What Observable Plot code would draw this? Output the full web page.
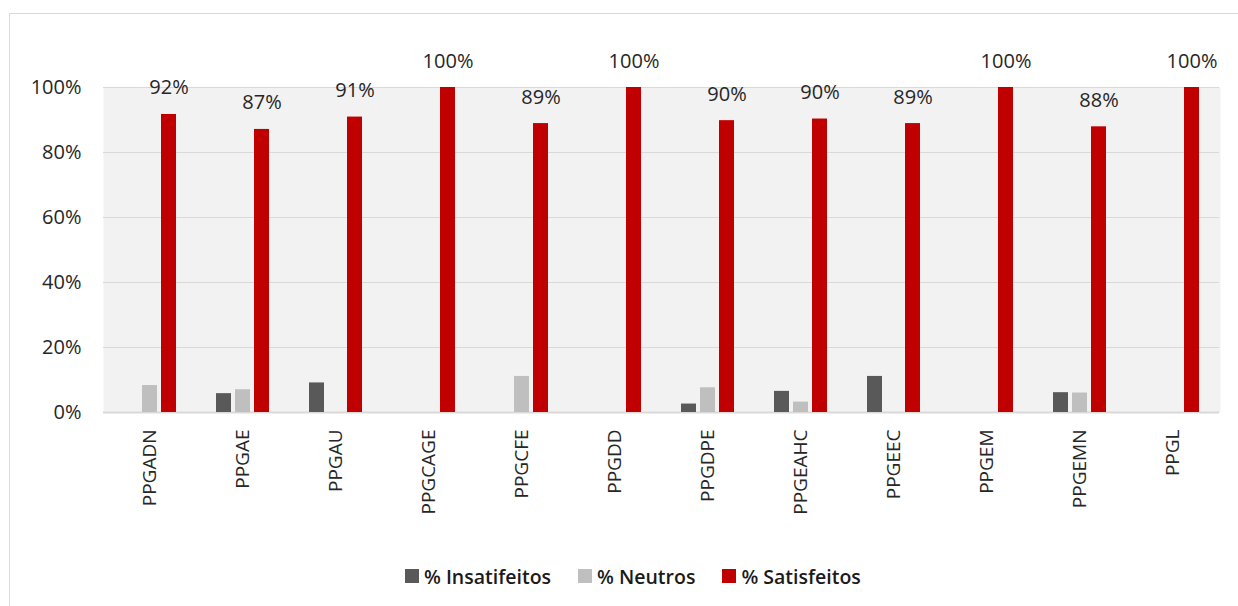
<!DOCTYPE html>
<html><head><meta charset="utf-8">
<script src="https://cdn.jsdelivr.net/npm/d3@7"></script>
<script src="https://cdn.jsdelivr.net/npm/@observablehq/plot@0.6"></script>
<style>
body{margin:0;background:#fff;font-family:"Open Sans",sans-serif;}
#wrap{position:relative;width:1238px;height:606px;overflow:hidden;}
#border{position:absolute;left:9px;top:13px;width:1400px;height:800px;border-left:1px solid #d9d9d9;border-top:1px solid #d9d9d9;}
#chart{position:absolute;left:0;top:0;}
#legend{position:absolute;left:405px;top:561px;display:flex;align-items:center;height:30px;font-size:19.5px;font-weight:600;color:#1a1a1a;white-space:nowrap;}
#legend .item{display:flex;align-items:center;margin-right:27px;}
#legend .sw{width:14px;height:14px;margin-right:5px;}
</style>
</head><body>
<div id="wrap"><div id="border"></div><div id="chart"></div><div id="legend"></div></div>
<script>
const programs = ["PPGADN","PPGAE","PPGAU","PPGCAGE","PPGCFE","PPGDD","PPGDPE","PPGEAHC","PPGEEC","PPGEM","PPGEMN","PPGL"];
const series = ["% Insatifeitos","% Neutros","% Satisfeitos"];
const colors = ["#595959","#bfbfbf","#c00000"];
const insatisfeitos = [0, 5.8, 9.1, 0, 0, 0, 2.6, 6.5, 11.1, 0, 6.1, 0];
const neutros = [8.3, 7.0, 0, 0, 11.1, 0, 7.6, 3.2, 0, 0, 6.0, 0];
const satisfeitos = [91.7, 87.1, 90.9, 100, 88.9, 100, 89.8, 90.3, 88.9, 100, 87.9, 100];
const yTicks = [0, 20, 40, 60, 80, 100];

const values = [insatisfeitos, neutros, satisfeitos];
const data = programs.flatMap((p, i) => series.map((s, j) => ({program: p, serie: s, value: values[j][i]})));
const satData = data.filter(d => d.serie === "% Satisfeitos");

const chart = Plot.plot({
  width: 1238, height: 520,
  marginLeft: 102, marginRight: 18, marginTop: 87, marginBottom: 108,
  style: {fontFamily: "'Open Sans', sans-serif", fontSize: "20px", color: "#262626", background: "transparent"},
  fx: {domain: programs, paddingInner: 0, paddingOuter: 0, label: null},
  x: {domain: series, paddingInner: 0.2, paddingOuter: 0.933, axis: null},
  y: {domain: [0, 100], axis: null, label: null},
  color: {domain: series, range: colors},
  marks: [
    Plot.frame({fill: "#f2f2f2", stroke: null, insetRight: -1}),
    Plot.gridY(yTicks.slice(1), {stroke: "#d9d9d9", strokeOpacity: 1}),
    Plot.ruleY([0], {stroke: "#d9d9d9", strokeWidth: 2}),
    Plot.barY(data.filter(d => d.value > 0), {fx: "program", x: "serie", y: "value", fill: "serie"}),
    Plot.text(satData, {fx: "program", x: "serie", y: "value", text: d => Math.round(d.value) + "%", lineAnchor: "bottom", dy: -20, fill: "#262626", fontSize: 20}),
    Plot.axisY({ticks: yTicks, tickFormat: d => d + "%", tickSize: 0, tickPadding: 22, fontSize: 20, fill: "#262626", label: null}),
    Plot.axisFx({anchor: "bottom", tickRotate: -90, tickSize: 0, tickPadding: 17, label: null, fontSize: 19, fill: "#262626"})
  ]
});
document.getElementById("chart").appendChild(chart);

const legend = document.getElementById("legend");
series.forEach((s, i) => {
  const item = document.createElement("div");
  item.className = "item";
  const sw = document.createElement("span");
  sw.className = "sw";
  sw.style.background = colors[i];
  const t = document.createElement("span");
  t.textContent = s;
  item.appendChild(sw); item.appendChild(t);
  legend.appendChild(item);
});
</script>
</body></html>
